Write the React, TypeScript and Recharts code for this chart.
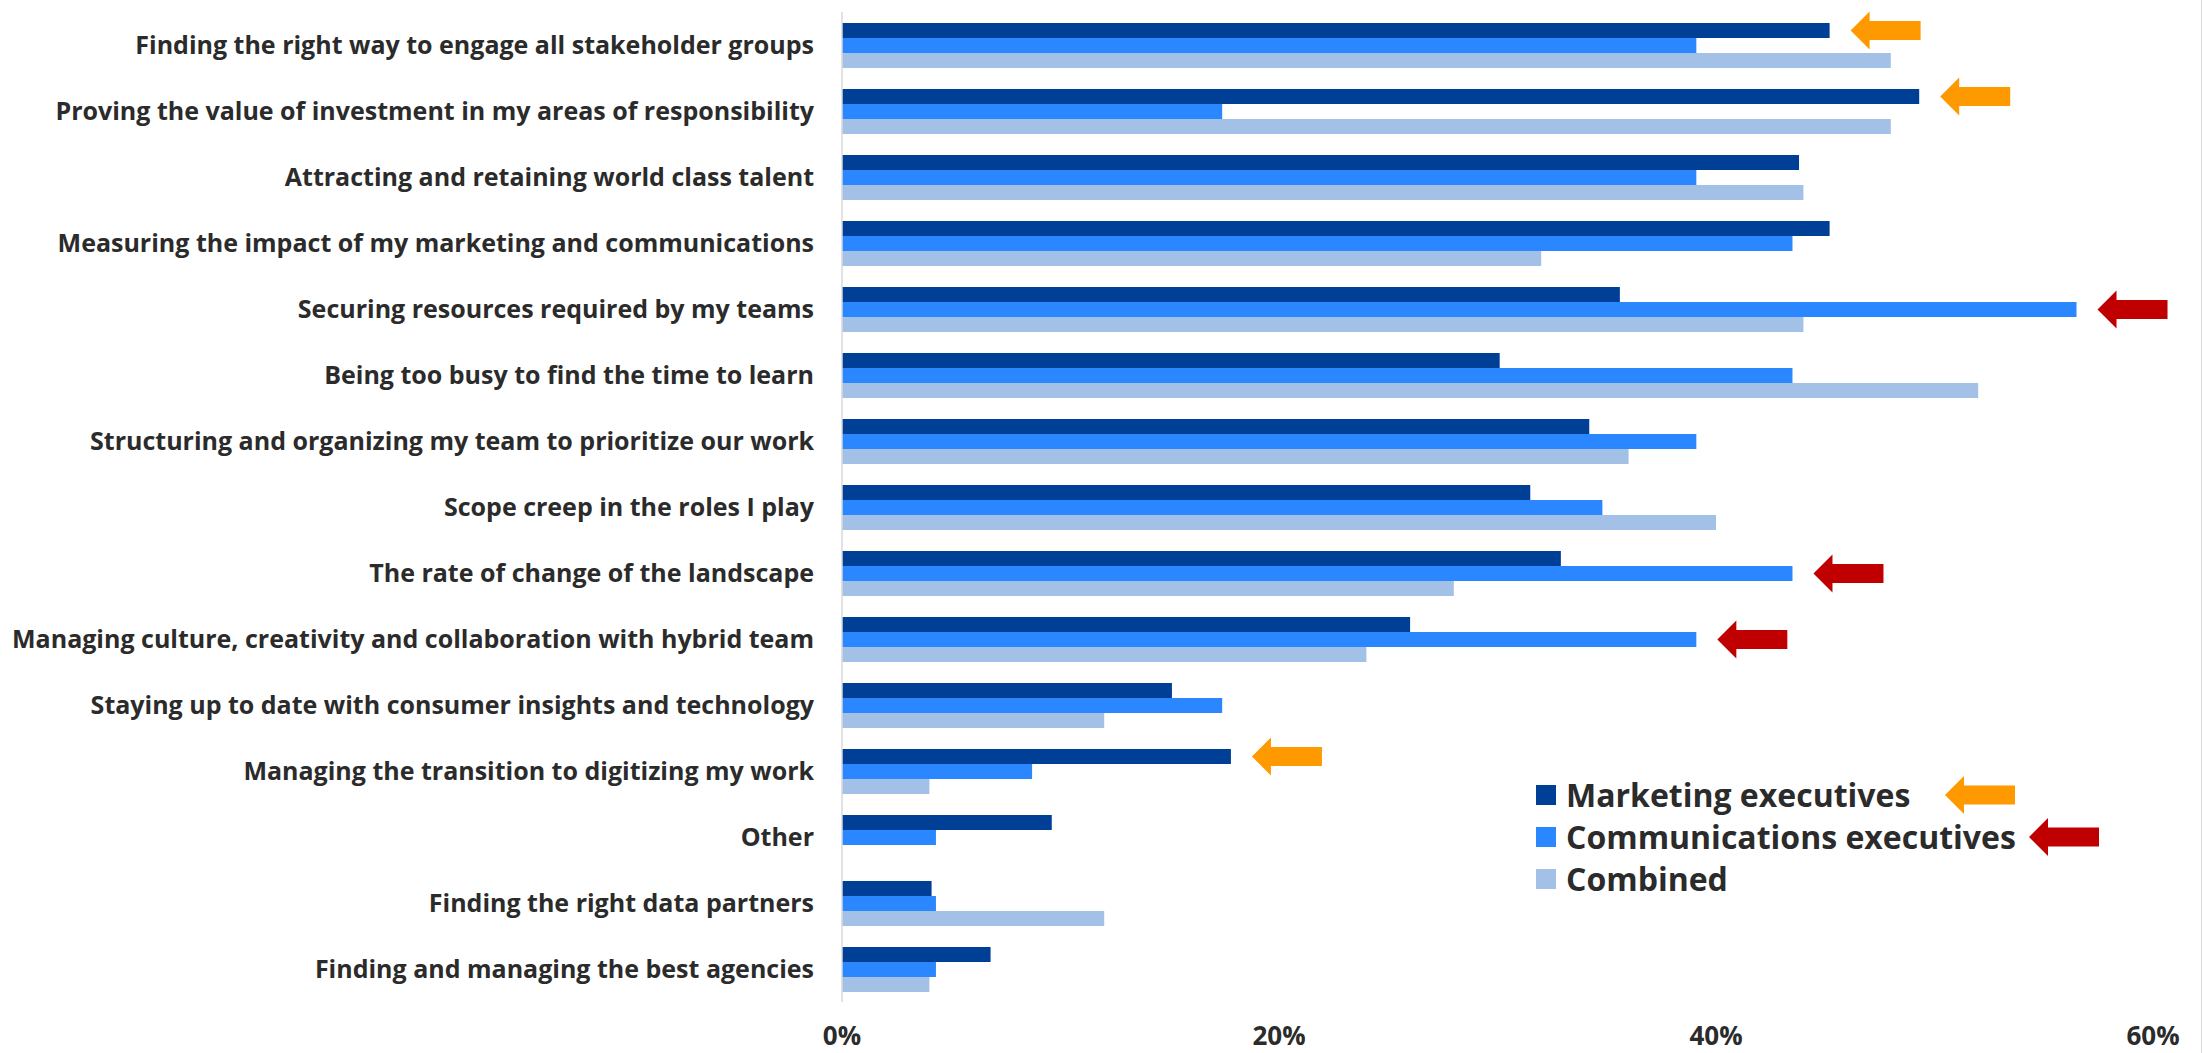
import { BarChart, Bar, XAxis, YAxis, Legend, LabelList } from "recharts";

const categories = [
  "Finding the right way to engage all stakeholder groups",
  "Proving the value of investment in my areas of responsibility",
  "Attracting and retaining world class talent",
  "Measuring the impact of my marketing and communications",
  "Securing resources required by my teams",
  "Being too busy to find the time to learn",
  "Structuring and organizing my team to prioritize our work",
  "Scope creep in the roles I play",
  "The rate of change of the landscape",
  "Managing culture, creativity and collaboration with hybrid team",
  "Staying up to date with consumer insights and technology",
  "Managing the transition to digitizing my work",
  "Other",
  "Finding the right data partners",
  "Finding and managing the best agencies",
];

const marketing = [45.2, 49.3, 43.8, 45.2, 35.6, 30.1, 34.2, 31.5, 32.9, 26.0, 15.1, 17.8, 9.6, 4.1, 6.8];
const communications = [39.1, 17.4, 39.1, 43.5, 56.5, 43.5, 39.1, 34.8, 43.5, 39.1, 17.4, 8.7, 4.3, 4.3, 4.3];
const combined = [48, 48, 44, 32, 44, 52, 36, 40, 28, 24, 12, 4, 0, 12, 4];

const xTicks = [0, 20, 40, 60];
const seriesNames = ["Marketing executives", "Communications executives", "Combined"];

// categories that get an arrow callout
const marketingFlags = [0, 1, 11];
const commsFlags = [4, 8, 9];

const NAVY = "#003F96";
const BLUE = "#2A87FF";
const LIGHT = "#A3C1E7";
const ORANGE = "#FF9900";
const RED = "#C00000";
const TEXT = "#2B2B2B";
const FONT = "'Open Sans', Lato, sans-serif";

const data = categories.map((name, i) => ({
  name,
  marketing: marketing[i],
  comms: communications[i],
  combined: combined[i],
}));

// left-pointing block arrow, tip at (x, y)
function arrowPoints(x: number, y: number) {
  const len = 70;
  const head = 19;
  const headH = 38;
  const shaftH = 19;
  return [
    [x, y],
    [x + head, y - headH / 2],
    [x + head, y - shaftH / 2],
    [x + len, y - shaftH / 2],
    [x + len, y + shaftH / 2],
    [x + head, y + shaftH / 2],
    [x + head, y + headH / 2],
  ]
    .map((p) => p.join(","))
    .join(" ");
}

function makeArrowLabel(flags: number[], color: string) {
  return (props: any) => {
    const { x, y, width, height, index } = props;
    if (index == null || !flags.includes(index)) return null;
    const tipX = Number(x) + Number(width) + 21;
    const midY = Number(y) + Number(height) / 2;
    return <polygon points={arrowPoints(tipX, midY)} fill={color} />;
  };
}

function LegendBox() {
  const colors = [NAVY, BLUE, LIGHT];
  const arrows: (string | null)[] = [ORANGE, RED, null];
  const arrowTips = [409, 493, 0];
  return (
    <div style={{ position: "relative", fontFamily: FONT }}>
      {seriesNames.map((name, i) => (
        <div
          key={name}
          style={{
            display: "flex",
            alignItems: "center",
            height: 42,
            position: "relative",
          }}
        >
          <div style={{ width: 20, height: 20, background: colors[i], marginRight: 10, flex: "none" }} />
          <span style={{ fontSize: 32, fontWeight: 700, color: TEXT, whiteSpace: "nowrap", lineHeight: "42px" }}>
            {name}
          </span>
          {arrows[i] && (
            <svg width={80} height={40} style={{ position: "absolute", left: arrowTips[i], top: 1 }}>
              <polygon points={arrowPoints(0, 20)} fill={arrows[i] as string} />
            </svg>
          )}
        </div>
      ))}
    </div>
  );
}

export default function App() {
  return (
    <div
      style={{
        position: "absolute",
        left: 0,
        top: 0,
        width: 2202,
        height: 1053,
        background: "#fff",
        borderRight: "1px solid #d9d9d9",
        boxSizing: "border-box",
      }}
    >
      <BarChart
        width={2202}
        height={1053}
        data={data}
        layout="vertical"
        margin={{ top: 12, right: 49, bottom: 0, left: 0 }}
        barGap={0}
        barSize={15}
      >
        <XAxis
          type="number"
          domain={[0, 60]}
          ticks={xTicks}
          tickFormatter={(v) => `${v}%`}
          axisLine={false}
          tickLine={false}
          tickSize={0}
          tickMargin={25}
          height={51}
          tick={{ fill: TEXT, fontSize: 26, fontWeight: 700, fontFamily: FONT }}
        />
        <YAxis
          type="category"
          dataKey="name"
          width={842}
          interval={0}
          axisLine={{ stroke: "#D9D9D9", strokeWidth: 1.5 }}
          tickLine={false}
          tickSize={0}
          tickMargin={28}
          tick={{ fill: TEXT, fontSize: 25, fontWeight: 700, fontFamily: FONT }}
        />
        <Legend
          layout="vertical"
          verticalAlign="middle"
          align="center"
          content={<LegendBox />}
          wrapperStyle={{ position: "absolute", left: 1536, top: 774, width: 640 }}
        />
        <Bar dataKey="marketing" name={seriesNames[0]} fill={NAVY} isAnimationActive={false}>
          <LabelList dataKey="marketing" content={makeArrowLabel(marketingFlags, ORANGE)} />
        </Bar>
        <Bar dataKey="comms" name={seriesNames[1]} fill={BLUE} isAnimationActive={false}>
          <LabelList dataKey="comms" content={makeArrowLabel(commsFlags, RED)} />
        </Bar>
        <Bar dataKey="combined" name={seriesNames[2]} fill={LIGHT} isAnimationActive={false} />
      </BarChart>
    </div>
  );
}
